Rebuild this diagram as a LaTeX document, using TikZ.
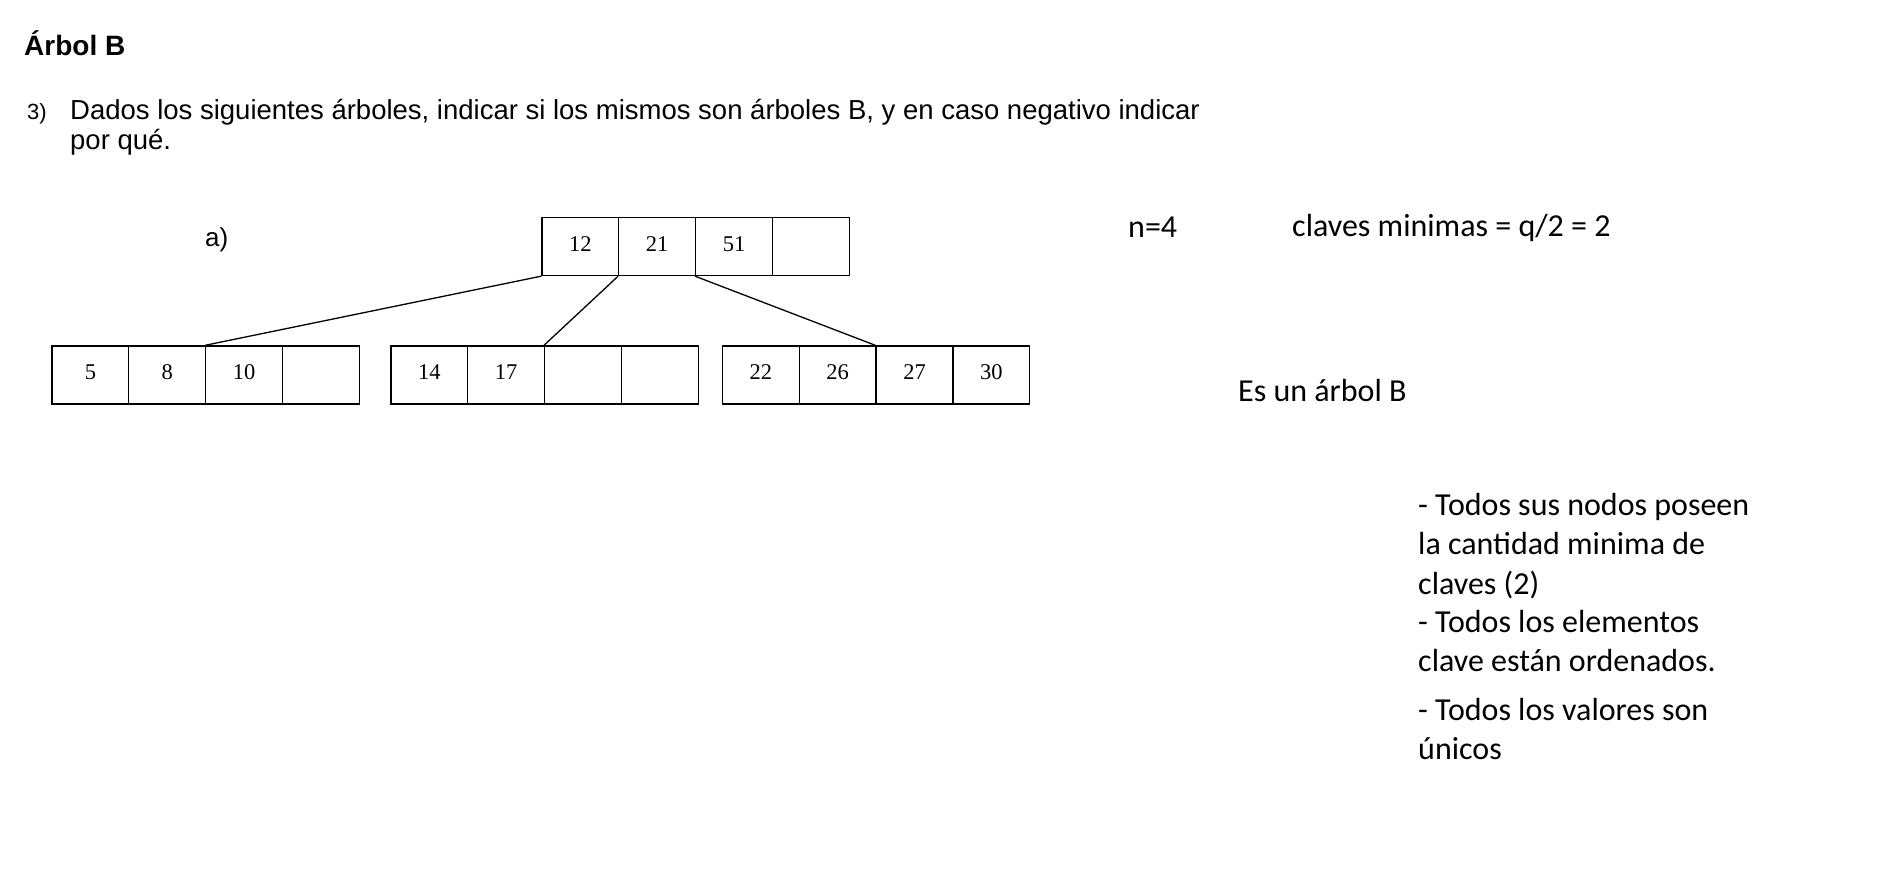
\documentclass[tikz,border=0pt]{standalone}
\usepackage{fontspec}
\setmainfont{Liberation Sans}
\newfontfamily\notas{Carlito}
\newfontfamily\cifras{Liberation Serif}
\usetikzlibrary{positioning}
\tikzset{
  celda/.style={draw, line width=1.3pt, minimum width=76.8pt, minimum height=58pt,
                inner sep=0pt, font=\cifras\fontsize{22.5}{26}\selectfont},
  enlace/.style={line width=1.3pt},
  enunciado/.style={anchor=base west, inner sep=0pt, font=\fontsize{27.5}{32}\selectfont},
  nota/.style={anchor=base west, inner sep=0pt, font=\notas\fontsize{32}{38}\selectfont},
}

\begin{document}
\begin{tikzpicture}[x=1pt, y=-1pt]
  \useasboundingbox (0,0) rectangle (1888,876);
  % enunciado
  \node[enunciado, font=\bfseries\fontsize{28}{32}\selectfont] (titulo) at (24,55) {Árbol B};
  \node[enunciado, font=\fontsize{22}{26}\selectfont] (num) at (27,119) {3)};
  \node[enunciado] (preg1) at (70,119) {Dados los siguientes árboles, indicar si los mismos son árboles B, y en caso negativo indicar};
  \node[enunciado] (preg2) at (70,149) {por qué.};
  \node[enunciado, font=\fontsize{26}{30}\selectfont] (inciso) at (205,246) {a)};
  % nodos del arbol
  \foreach \k/\v in {1/12,2/21,3/51,4/{}}
    \node[celda] (r\k) at (542+76.8*\k-38.4,246.5) {\raisebox{5pt}{\v}};
  \foreach \k/\v in {1/5,2/8,3/10,4/{}}
    \node[celda] (a\k) at (52+76.8*\k-38.4,375) {\raisebox{5pt}{\v}};
  \foreach \k/\v in {1/14,2/17,3/{},4/{}}
    \node[celda] (b\k) at (391+76.8*\k-38.4,375) {\raisebox{5pt}{\v}};
  \foreach \k/\v in {1/22,2/26,3/27,4/30}
    \node[celda] (c\k) at (722.5+76.8*\k-38.4,375) {\raisebox{5pt}{\v}};
  \draw[enlace] (r1.south west) -- (a3.north west);
  \draw[enlace] (r2.south west) -- (b3.north west);
  \draw[enlace] (r3.south west) -- (c3.north west);
  % respuesta
  \node[nota] (orden) at (1128,237) {n=4};
  \node[nota] (minimo) at (1292,236) {claves minimas = q/2 = 2};
  \node[nota] (veredicto) at (1238,401) {Es un árbol B};
  \foreach \y/\t [count=\i] in {515/{- Todos sus nodos poseen}, 554/{la cantidad minima de},
      594/{claves (2)}, 632/{- Todos los elementos}, 671/{clave están ordenados.},
      720/{- Todos los valores son}, 759/{únicos}}
    \node[nota] (linea\i) at (1418,\y) {\t};
\end{tikzpicture}
\end{document}
